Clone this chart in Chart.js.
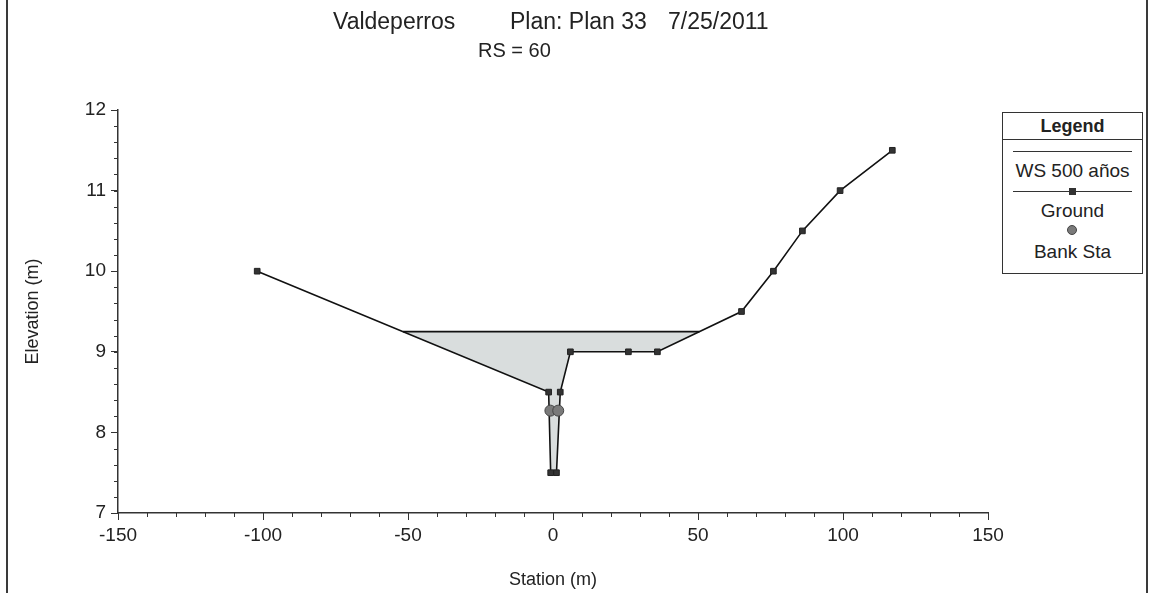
<!DOCTYPE html>
<html>
<head>
<meta charset="utf-8">
<script src="https://cdn.jsdelivr.net/npm/chart.js@4.4.1/dist/chart.umd.min.js"></script>
<style>
  html, body { margin:0; padding:0; background:#fff; }
  #wrap { position:relative; width:1150px; height:593px; overflow:hidden; font-family:"Liberation Sans", Arial, sans-serif; color:#222; }
  canvas { position:absolute; left:0; top:0; }
  .t { position:absolute; white-space:pre; line-height:1; }
  .frame { position:absolute; top:0; width:2px; height:593px; background:#3a3a3a; }
  #legend { position:absolute; left:1002px; top:112px; width:141px; height:162px; box-sizing:border-box; border:1px solid #333; background:#fff; }
  #legend .row { position:absolute; left:0; width:100%; text-align:center; line-height:1; }
  #legend .ln { position:absolute; left:10px; width:119px; height:1px; background:#333; }
</style>
</head>
<body>
<div id="wrap">
  <canvas id="c" width="1150" height="593"></canvas>
  <div class="frame" style="left:6px"></div>
  <div class="frame" style="left:1146px"></div>
  <div class="t" style="left:333px;top:10px;font-size:23px;">Valdeperros</div>
  <div class="t" style="left:510px;top:10px;font-size:23px;">Plan: Plan 33</div>
  <div class="t" style="left:668px;top:10px;font-size:23px;">7/25/2011</div>
  <div class="t" style="left:478px;top:40px;font-size:20px;">RS = 60</div>
  <div id="legend"></div>
</div>
<script>
// ---- data ----
const groundStation = [-102, -1.5, -0.8, 1.2, 2.5, 6, 26, 36, 65, 76, 86, 99, 117];
const groundElevation = [10.0, 8.5, 7.5, 7.5, 8.5, 9.0, 9.0, 9.0, 9.5, 10.0, 10.5, 11.0, 11.5];
const wsElevation = 9.25;
const bankStation = [-0.9, 1.8];
const bankElevation = [8.27, 8.27];
const xTicks = [-150, -100, -50, 0, 50, 100, 150];
const yTicks = [7, 8, 9, 10, 11, 12];
const legendLabels = ["WS 500 años", "Ground", "Bank Sta"];

// ---- derived ----
const ground = groundStation.map((x, i) => ({x, y: groundElevation[i]}));
const bank = bankStation.map((x, i) => ({x, y: bankElevation[i]}));
// water surface extent: crossings of the ground profile with the WS elevation
function crossings() {
  const pts = [];
  for (let i = 0; i < ground.length - 1; i++) {
    const a = ground[i], b = ground[i + 1];
    if ((a.y - wsElevation) * (b.y - wsElevation) < 0) {
      const t = (wsElevation - a.y) / (b.y - a.y);
      pts.push({x: a.x + t * (b.x - a.x), y: wsElevation, i});
    }
  }
  return pts;
}
const cr = crossings();
const left = cr[0], right = cr[cr.length - 1];
const wsLine = [{x: left.x, y: wsElevation}, {x: right.x, y: wsElevation}];
const waterPoly = [{x: left.x, y: wsElevation}];
for (let i = left.i + 1; i <= right.i; i++) waterPoly.push(ground[i]);
waterPoly.push({x: right.x, y: wsElevation});

// ---- minor ticks plugin ----
const minorTicks = {
  id: 'minorTicks',
  afterDraw(chart) {
    const ctx = chart.ctx, xs = chart.scales.x, ys = chart.scales.y;
    ctx.save();
    ctx.strokeStyle = '#333';
    ctx.lineWidth = 1;
    ctx.beginPath();
    for (let v = xs.min; v <= xs.max + 1e-9; v += 10) {
      const px = Math.round(xs.getPixelForValue(v)) + 0.5;
      ctx.moveTo(px, ys.bottom); ctx.lineTo(px, ys.bottom + 4);
    }
    for (let k = 0; k <= (ys.max - ys.min) * 5 + 1e-9; k++) {
      const v = ys.min + k * 0.2;
      const py = Math.round(ys.getPixelForValue(v)) + 0.5;
      ctx.moveTo(xs.left, py); ctx.lineTo(xs.left - 4, py);
    }
    ctx.stroke();
    ctx.restore();
  }
};

const font = {family: '"Liberation Sans", Arial, sans-serif', size: 19};
new Chart(document.getElementById('c'), {
  type: 'line',
  data: {
    datasets: [
      {label: 'fill', data: waterPoly, showLine: true, fill: 'shape', backgroundColor: '#d9dddd',
       borderWidth: 0, borderColor: 'rgba(0,0,0,0)', pointRadius: 0, tension: 0, order: 4},
      {label: legendLabels[0], data: wsLine, showLine: true, fill: false, borderColor: '#111',
       borderWidth: 1.6, pointRadius: 0, order: 3},
      {label: legendLabels[1], data: ground, showLine: true, fill: false, borderColor: '#111',
       borderWidth: 1.6, pointStyle: 'rect', pointRadius: 4, pointBackgroundColor: '#333',
       pointBorderColor: '#222', pointBorderWidth: 1, order: 2},
      {label: legendLabels[2], data: bank, showLine: false, fill: false, pointStyle: 'circle',
       pointRadius: 5.5, pointBackgroundColor: '#7a7a7a', pointBorderColor: '#444', pointBorderWidth: 1, order: 1}
    ]
  },
  options: {
    responsive: false,
    animation: false,
    events: [],
    layout: {padding: {left: 20, right: 162, top: 110, bottom: 0}},
    plugins: {legend: {display: false}, tooltip: {enabled: false}, title: {display: false}},
    scales: {
      x: {
        type: 'linear', min: xTicks[0], max: xTicks[xTicks.length - 1],
        afterBuildTicks: s => { s.ticks = xTicks.map(v => ({value: v})); },
        afterFit: s => { s.height = 80; },
        ticks: {font, color: '#222', padding: 4, maxRotation: 0, autoSkip: false},
        grid: {display: true, drawOnChartArea: false, tickLength: 7, color: '#333', tickColor: '#333'},
        border: {display: true, color: '#333', width: 1.5},
        title: {display: true, text: 'Station (m)', font: {family: font.family, size: 18}, color: '#222', padding: {top: 4, bottom: 2}}
      },
      y: {
        type: 'linear', min: yTicks[0], max: yTicks[yTicks.length - 1],
        afterBuildTicks: s => { s.ticks = yTicks.map(v => ({value: v})); },
        afterFit: s => { s.width = 98; },
        ticks: {font, color: '#222', padding: 5, autoSkip: false},
        grid: {display: true, drawOnChartArea: false, tickLength: 7, color: '#333', tickColor: '#333'},
        border: {display: true, color: '#333', width: 1.5},
        title: {display: true, text: 'Elevation (m)', font: {family: font.family, size: 18}, color: '#222', padding: {top: 2, bottom: 2}}
      }
    }
  },
  plugins: [minorTicks]
});

// ---- legend box (HTML) ----
const lg = document.getElementById('legend');
function add(html) { lg.insertAdjacentHTML('beforeend', html); }
add('<div class="row" style="top:4px;font-size:18px;font-weight:bold;">Legend</div>');
add('<div style="position:absolute;left:0;top:26px;width:100%;height:1px;background:#333"></div>');
add('<div class="ln" style="top:38px"></div>');
add('<div class="row" style="top:48px;font-size:19px;">' + legendLabels[0] + '</div>');
add('<div class="ln" style="top:78px"></div>');
add('<div style="position:absolute;left:66px;top:75px;width:7px;height:7px;background:#333"></div>');
add('<div class="row" style="top:88px;font-size:19px;">' + legendLabels[1] + '</div>');
add('<div style="position:absolute;left:64px;top:112px;width:10px;height:10px;border-radius:50%;background:#7a7a7a;border:1px solid #444;box-sizing:border-box"></div>');
add('<div class="row" style="top:129px;font-size:19px;">' + legendLabels[2] + '</div>');
</script>
</body>
</html>
